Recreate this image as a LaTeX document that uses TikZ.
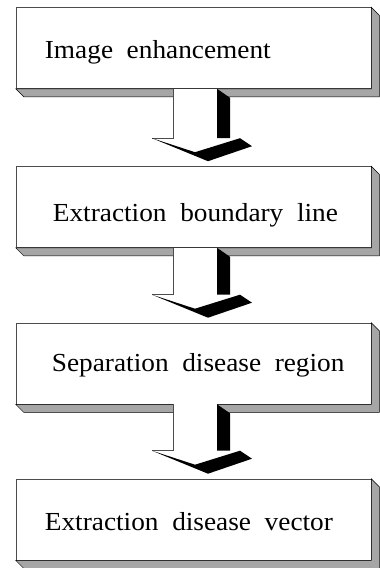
\documentclass[tikz,border=0pt]{standalone}
\usepackage{fontspec}
\setmainfont{Liberation Serif}[FakeStretch=1.05, WordSpace=2]
\usepackage{tikz}

\begin{document}
\begin{tikzpicture}[x=1pt, y=-1pt,
    stepbox/.style={draw=black!70, line width=0.6pt, fill=white, minimum width=355pt, minimum height=81pt, inner sep=0pt},
    steplabel/.style={inner sep=0pt, font=\fontsize{26}{30}\selectfont},
    sideface/.style={fill=black!35, draw=black, line width=0.5pt},
    shaftface/.style={fill=white, draw=black!70, line width=0.5pt}]
    \useasboundingbox (0,0) rectangle (380,568);

    \node[stepbox] (enh) at (193.5,48) {};
    \node[stepbox] (bnd) at (193.5,207) {};
    \node[stepbox] (sep) at (193.5,363.5) {};
    \node[stepbox] (vec) at (193.5,519.5) {};

    \node[steplabel, anchor=base west] (enhtxt) at ([shift={(29,10)}]enh.west) {Image enhancement};
    \node[steplabel, anchor=base west] (bndtxt) at ([shift={(37,14)}]bnd.west) {Extraction boundary line};
    \node[steplabel, anchor=base west] (septxt) at ([shift={(36,8)}]sep.west) {Separation disease region};
    \node[steplabel, anchor=base west] (vectxt) at ([shift={(29,11)}]vec.west) {Extraction disease vector};

    % shaded side faces
    \foreach \n in {enh, bnd, sep, vec} {
        \filldraw[sideface] (\n.north east) -- ++(8,8) -- ([shift={(8,8)}]\n.south east)
            -- ([shift={(8,8)}]\n.south west) -- (\n.south west) -- (\n.south east) -- cycle;
    }

    % block arrows
    \foreach \a/\b in {enh/bnd, bnd/sep, sep/vec} {
        \fill[white] ([shift={(-20.5,0)}]\a.south) rectangle ([shift={(23.5,-28)}]\b.north);
        \draw[black!70, line width=0.5pt] ([shift={(-20.5,0)}]\a.south) |- ([shift={(-41.5,-28)}]\b.north);
        \fill[black] ([shift={(23.5,0)}]\a.south) -- ++(13,9) |- ([shift={(23.5,-28)}]\b.north) -- cycle;
        \fill[black] ([shift={(-41.5,-28)}]\b.north) -- ([shift={(14.5,-5)}]\b.north)
            -- ([shift={(58.5,-20)}]\b.north) -- ([shift={(46.5,-28)}]\b.north)
            -- ([shift={(1.5,-14)}]\b.north) -- cycle;
    }
\end{tikzpicture}
\end{document}
